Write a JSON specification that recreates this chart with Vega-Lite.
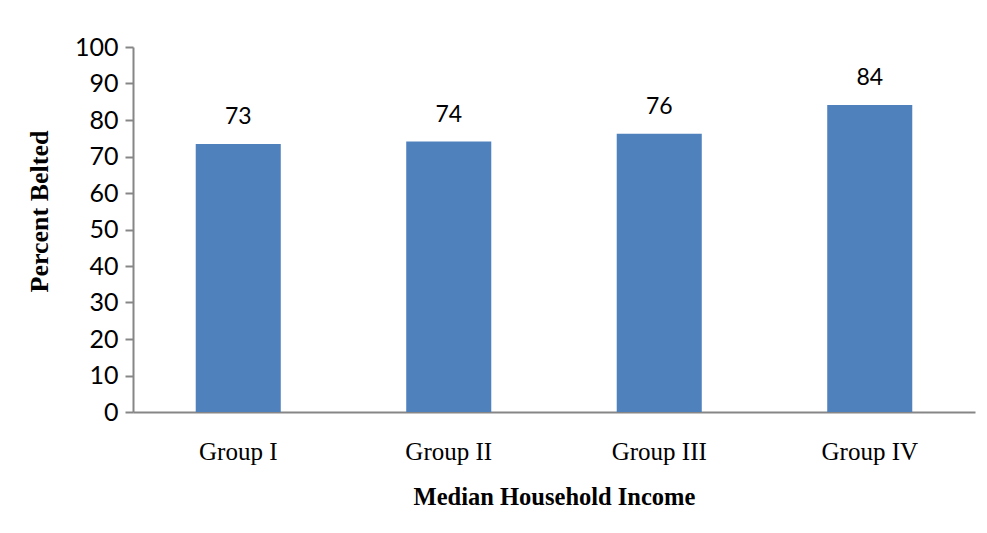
{
  "$schema": "https://vega.github.io/schema/vega-lite/v6.json",
  "width": 842,
  "height": 365,
  "autosize": {"type": "none"},
  "padding": {"left": 133, "top": 47, "right": 12, "bottom": 121},
  "background": "#ffffff",
  "config": {"view": {"stroke": null}},
  "data": {
    "values": [
      {"group": "Group I", "pct": 73.4},
      {"group": "Group II", "pct": 74.1},
      {"group": "Group III", "pct": 76.2},
      {"group": "Group IV", "pct": 84.1}
    ]
  },
  "encoding": {
    "x": {
      "field": "group",
      "type": "nominal",
      "sort": null,
      "scale": {"paddingInner": 0.596, "paddingOuter": 0.298},
      "axis": {
        "title": "Median Household Income",
        "labelAngle": 0,
        "labelFont": "Liberation Serif",
        "labelFontSize": 25,
        "labelColor": "#000000",
        "labelPadding": 27,
        "ticks": false,
        "domainColor": "#868686",
        "domainWidth": 2,
        "titleFont": "Liberation Serif",
        "titleFontSize": 24.5,
        "titleFontWeight": "bold",
        "titleColor": "#000000",
        "titlePadding": 21
      }
    },
    "y": {
      "field": "pct",
      "type": "quantitative",
      "scale": {"domain": [0, 100], "nice": false},
      "axis": {
        "title": "Percent Belted",
        "values": [0, 10, 20, 30, 40, 50, 60, 70, 80, 90, 100],
        "grid": false,
        "labelFont": "Lato",
        "labelFontSize": 25,
        "labelColor": "#000000",
        "labelPadding": 7,
        "tickSize": 8,
        "tickColor": "#868686",
        "tickWidth": 2,
        "domainColor": "#868686",
        "domainWidth": 2,
        "titleFont": "Liberation Serif",
        "titleFontSize": 26,
        "titleFontWeight": "bold",
        "titleColor": "#000000",
        "titleAngle": 270,
        "titleX": -94,
        "titleY": 164,
        "titleAlign": "center",
        "titleBaseline": "middle"
      }
    }
  },
  "layer": [
    {"mark": {"type": "bar", "color": "#4F81BD"}},
    {
      "mark": {"type": "text", "baseline": "alphabetic", "dy": -20, "font": "Lato", "fontSize": 23, "color": "#000000"},
      "encoding": {"text": {"field": "pct", "type": "quantitative", "format": ".0f"}}
    }
  ]
}
